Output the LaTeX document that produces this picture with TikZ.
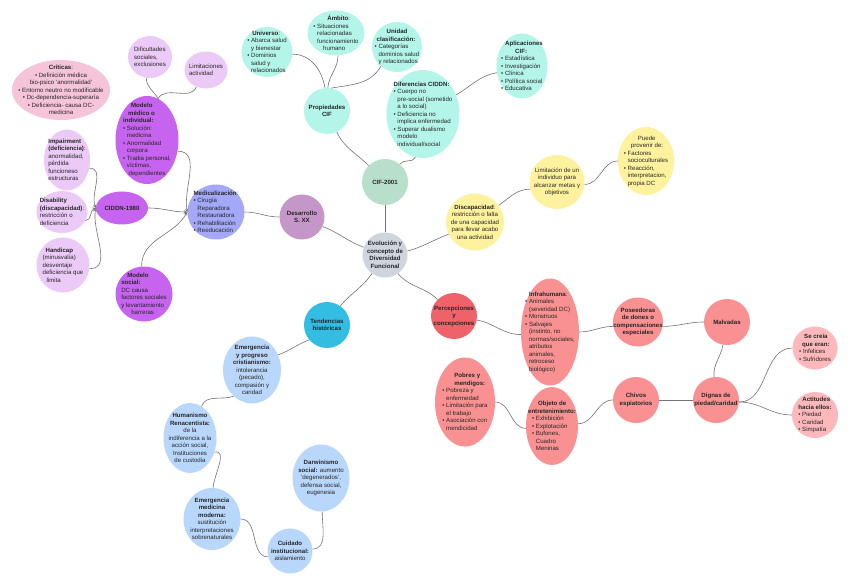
\documentclass[tikz,border=0pt]{standalone}
\usepackage{fontspec}
\setmainfont{Liberation Sans}
\usepackage{tikz}
\usetikzlibrary{shapes.geometric, arrows}

\definecolor{critpink}{HTML}{F6C4D8}
\definecolor{lilac}{HTML}{ECCAF8}
\definecolor{orchid}{HTML}{C664F0}
\definecolor{medblue}{HTML}{A3A8F7}
\definecolor{mauve}{HTML}{C597C8}
\definecolor{aqua}{HTML}{B4F5EA}
\definecolor{cifgreen}{HTML}{B8DFCC}
\definecolor{centgray}{HTML}{CFD4DD}
\definecolor{softyellow}{HTML}{FFF29E}
\definecolor{tendblue}{HTML}{33BDE3}
\definecolor{skyblue}{HTML}{B9D7FB}
\definecolor{redcore}{HTML}{F0626A}
\definecolor{salmon}{HTML}{F99192}
\definecolor{lightrose}{HTML}{FDB8BC}

\newcommand{\mapfont}{\fontsize{6.1}{7.5}\selectfont}
\newcommand{\ind}{\hphantom{•\ }}

\begin{document}
\begin{tikzpicture}[
        x=1pt, y=1pt,
        bub/.style={ellipse, inner sep=-14pt, font=\mapfont, align=center, text=black!85},
        lbub/.style={bub, align=left},
        sz/.style 2 args={minimum width=#1pt, minimum height=#2pt},
        link/.style={draw=black!55, line width=0.6pt},
        arr/.style={link, -stealth}
    ]
        \fill[white] (0,0) rectangle (848,-585);
        \useasboundingbox (0,0) rectangle (848,-585);

        % Centre
        \node[bub, fill=centgray, sz={45}{45}] (centro) at (385,-255) {\textbf{Evolución y}\\\textbf{concepto de}\\\textbf{Diversidad}\\\textbf{Funcional}};

        % Modelo medico / CIDDN
        \node[bub, fill=critpink, sz={98}{60}] (criticas) at (61,-90) {\textbf{Críticas}:\\• Definición médica\\bio-psico 'anormalidad'\\• Entorno neutro no modificable\\• Dc-dependencia-superaría\\• Deficiencia- causa DC-\\medicina};
        \node[lbub, fill=lilac, sz={44}{42}] (dific) at (150,-57) {Dificultades\\sociales,\\exclusiones};
        \node[lbub, fill=lilac, sz={43}{37}] (limact) at (206,-70) {Limitaciones\\actividad};
        \node[lbub, fill=orchid, sz={63}{88}] (medico) at (147,-140) {\hspace{8pt}\textbf{Modelo}\\\hspace{5pt}\textbf{médico o}\\\textbf{individual:}\\• Solución:\\\ind medicina\\• Anormalidad\\\ind corpora\\• Tradia personal,\\\ind víctimas,\\\ind\ dependientes};
        \node[lbub, fill=lilac, sz={46}{61}] (impair) at (67,-160) {\textbf{Impairment}\\\textbf{(deficiencia)}:\\anormalidad,\\pérdida\\funcioneso\\estructuras};
        \node[lbub, fill=lilac, sz={51}{42}] (disab) at (62,-212) {\textbf{Disability}\\\textbf{(discapacidad)}:\\restricción o\\deficiencia};
        \node[lbub, fill=lilac, sz={53}{55}] (handi) at (63,-265) {\hspace{3pt}\textbf{Handicap}\\(minusvalía)\\desventaje\\deficiencia que\\\hspace{4pt}limita};
        \node[bub, fill=orchid, sz={52}{33}] (ciddn) at (122,-208) {\textbf{CIDDN-1980}};
        \node[lbub, fill=orchid, sz={57}{55}] (social) at (144,-294) {\hspace{6pt}\textbf{Modelo}\\\textbf{social:}\\DC causa\\factores sociales\\y levantamiento\\\hspace{10pt}barreras};
        \node[lbub, fill=medblue, sz={57}{55}] (medic) at (216,-212) {\textbf{Medicalización}:\\• Cirugía\\\ind Reparadora\\\ind Restauradora\\• Rehabilitación\\• Reeducación};
        \node[bub, fill=mauve, sz={45}{45}] (desarr) at (302,-217) {\textbf{Desarrollo}\\\textbf{S. XX}};

        % CIF
        \node[bub, fill=cifgreen, sz={46}{46}] (cif) at (385,-182) {\textbf{CIF-2001}};
        \node[bub, fill=aqua, sz={46}{46}] (prop) at (327,-111) {\textbf{Propiedades}\\\textbf{CIF}};
        \node[lbub, fill=aqua, sz={51}{50}] (univ) at (267,-52) {\hspace{5pt}\textbf{Universo}:\\• Abarca salud\\\ind y bienestar\\• Dominios\\\ind salud y\\\ind relacionados};
        \node[lbub, fill=aqua, sz={57}{45}] (ambito) at (336,-33) {\hspace{14pt}\textbf{Ámbito}:\\• Situaciones\\\ind relacionadas\\\ind funcionamiento\\\ind\hspace{6pt}humano};
        \node[lbub, fill=aqua, sz={50}{50}] (unidad) at (397,-47) {\hspace{12pt}\textbf{Unidad}\\\hspace{2pt}\textbf{clasificación:}\\• Categorías\\\ind dominios salud\\\ind y relacionados};
        \node[lbub, fill=aqua, sz={51}{65}] (aplic) at (522,-66) {\hspace{4pt}\textbf{Aplicaciones}\\\hspace{14pt}\textbf{CIF:}\\• Estadística\\• Investigación\\• Clínica\\• Política social\\• Educativa};
        \node[lbub, fill=aqua, sz={73}{88}] (difer) at (423,-114) {\textbf{Diferencias CIDDN:}\\• Cuerpo no\\\ind pre-social (sometido\\\ind a lo social)\\• Deficiencia no\\\ind implica enfermedad\\• Superar dualismo\\\ind modelo\\\ind individual/social};

        % Discapacidad
        \node[bub, fill=softyellow, sz={58}{57}] (discap) at (475,-222) {\textbf{Discapacidad}:\\restricción o falta\\de una capacidad\\para llevar acabo\\una actividad};
        \node[bub, fill=softyellow, sz={55}{54}] (limit) at (557,-182) {Limitación de un\\individuo para\\alcanzar metas y\\objetivos};
        \node[lbub, fill=softyellow, sz={56}{68}] (provenir) at (646,-161) {\hspace{14pt}Puede\\\hspace{7pt}provenir de:\\• Factores\\\ind socioculturales\\• Reacción,\\\ind interpretacion,\\\ind propia DC};

        % Tendencias historicas
        \node[bub, fill=tendblue, sz={46}{46}] (tend) at (327,-325) {\textbf{Tendencias}\\\textbf{históricas}};
        \node[bub, fill=skyblue, sz={58}{67}] (cristian) at (252,-370) {\textbf{Emergencia}\\\textbf{y progreso}\\\textbf{cristianismo:}\\intolerancia\\(pecado),\\compasión y\\caridad};
        \node[bub, fill=skyblue, sz={53}{70}] (human) at (190,-438) {\textbf{Humanismo}\\\textbf{Renacentista:}\\de la\\indiferencia a la\\acción social,\\Instituciones\\de custodia};
        \node[bub, fill=skyblue, sz={57}{62}] (medmod) at (212,-519) {\textbf{Emergencia}\\\textbf{medicina}\\\textbf{moderna:}\\sustitución\\interpretaciones\\sobrenaturales};
        \node[bub, fill=skyblue, sz={45}{45}] (cuidado) at (290,-551) {\textbf{Cuidado}\\\textbf{institucional:}\\aislamiento};
        \node[bub, fill=skyblue, sz={57}{67}] (darwin) at (321,-478) {\textbf{Darwinismo}\\\textbf{social:} aumento\\'degenerados',\\defensa social,\\eugenesia};

        % Percepciones
        \node[bub, fill=redcore, sz={46}{46}] (percep) at (454,-316) {\textbf{Percepciones}\\\textbf{y}\\\textbf{concepciones}};
        \node[lbub, fill=salmon, sz={58}{107}] (infra) at (550,-332) {\hspace{4pt}\textbf{Infrahumana}:\\• Animales\\\ind (severidad DC)\\• Monstruos\\• Salvajes\\\ind (instinto, no\\\ind normas/sociales,\\\ind atributos\\\ind animales,\\\ind retroceso\\\ind biológico)};
        \node[bub, fill=salmon, sz={50}{49}] (dones) at (638,-322) {\textbf{Poseedoras}\\\textbf{de dones o}\\\textbf{compensaciones}\\\textbf{especiales}};
        \node[bub, fill=salmon, sz={46}{46}] (malv) at (727,-322) {\textbf{Malvadas}};
        \node[lbub, fill=salmon, sz={60}{89}] (pobres) at (465,-402) {\hspace{12pt}\textbf{Pobres y}\\\hspace{12pt}\textbf{mendigos:}\\• Pobreza y\\\ind enfermedad\\• Limitación para\\\ind el trabajo\\• Asociación con\\\ind mendicidad};
        \node[lbub, fill=salmon, sz={52}{78}] (objeto) at (552,-426) {\hspace{10pt}\textbf{Objeto de}\\\textbf{entretenimiento:}\\\hspace{4pt}• Exhibición\\\hspace{4pt}• Explotación\\\hspace{4pt}• Bufones,\\\hspace{4pt}\ind Cuadro\\\hspace{4pt}\ind Meninas};
        \node[bub, fill=salmon, sz={46}{46}] (chivos) at (636,-400) {\textbf{Chivos}\\\textbf{espiatorios}};
        \node[bub, fill=salmon, sz={46}{46}] (dignas) at (716,-400) {\textbf{Dignas de}\\\textbf{piedad/caridad}};
        \node[lbub, fill=lightrose, sz={45}{43}] (creia) at (815,-348) {\hspace{5pt}\textbf{Se creía}\\\hspace{3pt}\textbf{que eran:}\\• Infelices\\• Sufridores};
        \node[lbub, fill=lightrose, sz={46}{46}] (actit) at (815,-415) {\hspace{4pt}\textbf{Actitudes}\\\textbf{hacia ellos:}\\• Piedad\\• Caridad\\• Simpatía};

        % Connectors
        % Modelo medico / CIDDN
        \draw[link] (dific.-100) to[out=-90,in=120] (medico.75);
        \draw[link] (limact.-120) to[out=-110,in=60] (medico.75);
        \draw[arr] (impair.-20) to[out=0,in=110] (ciddn.west);
        \draw[arr] (disab.-20) to[out=0,in=200] (ciddn.west);
        \draw[arr] (handi.-8) to[out=0,in=-100] (ciddn.west);
        \draw[arr] (ciddn.east) to[out=0,in=180] (medic.west);
        \draw[arr] (medico.-20) to[out=0,in=100] (medic.west);
        \draw[arr] (social.95) to[out=90,in=-120] (medic.west);
        \draw[link] (medic.east) to[out=0,in=180] (desarr.west);
        \draw[link] (desarr.-25) to[out=-20,in=160] (centro.160);

        % CIF
        \draw[link] (centro.north) -- (cif.south);
        \draw[link] (cif.135) to[out=135,in=-65] (prop.-65);
        \draw[link] (univ.-5) to[out=0,in=100] (prop.95);
        \draw[link] (ambito.-85) to[out=-90,in=85] (prop.88);
        \draw[link] (unidad.-130) to[out=-120,in=10] (prop.80);
        \draw[link] (cif.50) to[out=60,in=-110] (difer.-100);
        \draw[link] (difer.30) to[out=30,in=190] (aplic.195);

        % Discapacidad
        \draw[link] (centro.10) to[out=15,in=200] (discap.205);
        \draw[link] (discap.35) to[out=35,in=180] (limit.195);
        \draw[link] (limit.-5) to[out=0,in=180] (provenir.west);

        % Tendencias historicas
        \draw[link] (centro.235) to[out=235,in=50] (tend.55);
        \draw[link] (tend.220) to[out=200,in=20] (cristian.30);
        \draw[link] (cristian.235) to[out=200,in=70] (human.70);
        \draw[link] (human.-30) to[out=10,in=85] (medmod.88);
        \draw[link] (medmod.east) to[out=0,in=180] (cuidado.195);
        \draw[link] (cuidado.5) to[out=0,in=-90] (darwin.-88);

        % Percepciones
        \draw[link] (centro.-55) to[out=-50,in=135] (percep.135);
        \draw[link] (percep.-10) to[out=-10,in=180] (infra.185);
        \draw[link] (infra.east) to[out=0,in=180] (dones.190);
        \draw[link] (dones.-10) to[out=0,in=180] (malv.west);
        \draw[link] (malv.-100) to[out=-100,in=95] (dignas.95);
        \draw[link] (pobres.east) to[out=0,in=180] (objeto.185);
        \draw[link] (objeto.5) to[out=0,in=180] (chivos.west);
        \draw[link] (chivos.east) -- (dignas.west);
        \draw[link] (dignas.-5) to[out=0,in=180] (creia.west);
        \draw[link] (dignas.-5) to[out=0,in=180] (actit.west);
    \end{tikzpicture}
\end{document}
